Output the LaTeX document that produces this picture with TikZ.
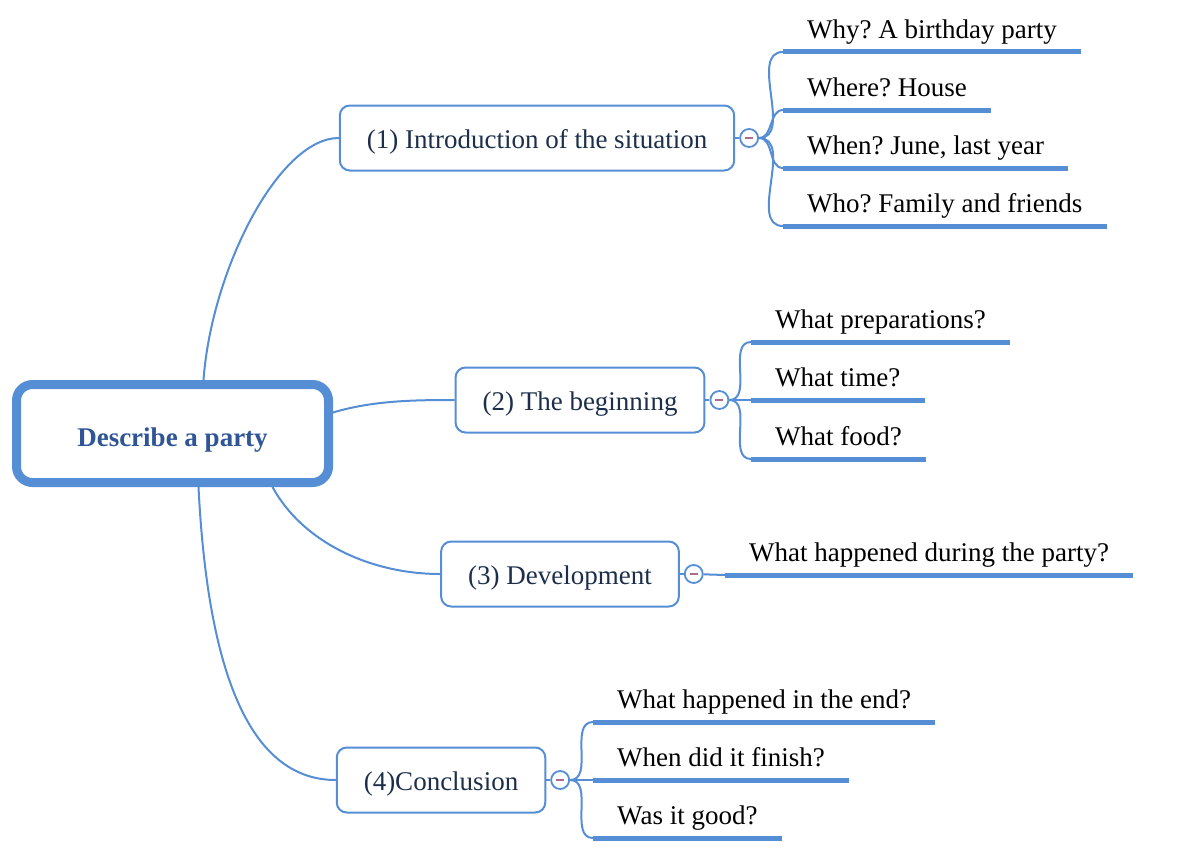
\documentclass[tikz,border=0pt]{standalone}
\usepackage{fontspec}
\setmainfont{LiberationSerif}[Extension=.ttf, UprightFont=*-Regular, BoldFont=*-Bold, ItalicFont=*-Italic, BoldItalicFont=*-BoldItalic]
\frenchspacing
\usetikzlibrary{positioning}

\definecolor{mapblue}{RGB}{85,142,213}
\definecolor{rootink}{RGB}{47,85,151}
\definecolor{topicink}{RGB}{28,46,74}
\definecolor{minusink}{RGB}{170,110,140}

\tikzset{
    root/.style={draw=mapblue, line width=9pt, rounded corners=16pt, minimum width=312pt, minimum height=98pt,
        text height=28pt, text depth=3pt, font=\fontsize{27}{32}\selectfont\bfseries, text=rootink},
    topic/.style={draw=mapblue, line width=2pt, rounded corners=10pt, minimum height=65pt, inner xsep=27pt,
        text height=24pt, text depth=4pt, font=\fontsize{27}{32}\selectfont, text=topicink},
    fold/.style={circle, draw=mapblue, line width=1.8pt, fill=white, minimum size=18pt, inner sep=0pt,
        path picture={\draw[minusink, line width=1.5pt] ([xshift=-4pt]path picture bounding box.center) -- ([xshift=4pt]path picture bounding box.center);}},
    leaf/.style={anchor=south west, inner xsep=24pt, inner ysep=7pt, text height=19pt, text depth=6pt,
        font=\fontsize{27}{32}\selectfont},
    link/.style={draw=mapblue, line width=2pt},
    underline/.style={draw=mapblue, line width=5pt}
}

\begin{document}
\begin{tikzpicture}[x=1pt, y=-1pt]
    \useasboundingbox (0,0) rectangle (1201,859);

    \node[root] (root) at (172.5,433.5) {Describe a party};

    \node[topic] (intro) at (537,138) {(1) Introduction of the situation};
    \node[topic] (begin) at (580,400) {(2) The beginning};
    \node[topic] (devel) at (560,574) {(3) Development};
    \node[topic] (concl) at (441,780) {(4)Conclusion};

    \draw[link] ([xshift=31pt]root.north) .. controls +(8,-110) and +(-60,0) .. (intro.west);
    \draw[link] ([yshift=21pt]root.east) .. controls +(40,-12) and +(-40,0) .. (begin.west);
    \draw[link] ([xshift=100pt]root.south) .. controls +(30,55) and +(-70,0) .. (devel.west);
    \draw[link] ([xshift=26pt]root.south) .. controls +(10,200) and +(-80,0) .. (concl.west);

    \node[fold, right=4pt of intro] (fintro) {};
    \node[fold, right=4pt of begin] (fbegin) {};
    \node[fold, right=4pt of devel] (fdevel) {};
    \node[fold, right=4pt of concl] (fconcl) {};
    \draw[link] (intro) -- (fintro); \draw[link] (begin) -- (fbegin); \draw[link] (devel) -- (fdevel); \draw[link] (concl) -- (fconcl);

    % leaves of (1)
    \node[leaf] (why) at (783,52) {Why? A birthday party};
    \node[leaf] (where) at (783,110) {Where? House};
    \node[leaf] (when) at (783,168) {When? June, last year};
    \node[leaf] (who) at (783,226) {Who? Family and friends};

    % leaves of (2)
    \node[leaf] (prep) at (751,342) {What preparations?};
    \node[leaf] (time) at (751,400) {What time?};
    \node[leaf] (food) at (751,459) {What food?};

    % leaf of (3)
    \node[leaf] (during) at (725,575) {What happened during the party?};

    % leaves of (4)
    \node[leaf] (end) at (593,722) {What happened in the end?};
    \node[leaf] (finish) at (593,780) {When did it finish?};
    \node[leaf] (good) at (593,838) {Was it good?};

    \draw[link] (fintro) to[out=0,in=180] (why.south west); \draw[link] (fintro) to[out=0,in=180] (where.south west);
    \draw[link] (fintro) to[out=0,in=180] (when.south west); \draw[link] (fintro) to[out=0,in=180] (who.south west);
    \draw[link] (fbegin) to[out=0,in=180] (prep.south west); \draw[link] (fbegin) -- (time.south west);
    \draw[link] (fbegin) to[out=0,in=180] (food.south west);
    \draw[link] (fdevel) -- (during.south west);
    \draw[link] (fconcl) to[out=0,in=180] (end.south west); \draw[link] (fconcl) -- (finish.south west);
    \draw[link] (fconcl) to[out=0,in=180] (good.south west);

    \draw[underline] (why.south west) -- (why.south east); \draw[underline] (where.south west) -- (where.south east);
    \draw[underline] (when.south west) -- (when.south east); \draw[underline] (who.south west) -- (who.south east);
    \draw[underline] (prep.south west) -- (prep.south east); \draw[underline] (time.south west) -- (time.south east);
    \draw[underline] (food.south west) -- (food.south east); \draw[underline] (during.south west) -- (during.south east);
    \draw[underline] (end.south west) -- (end.south east); \draw[underline] (finish.south west) -- (finish.south east);
    \draw[underline] (good.south west) -- (good.south east);
\end{tikzpicture}
\end{document}
